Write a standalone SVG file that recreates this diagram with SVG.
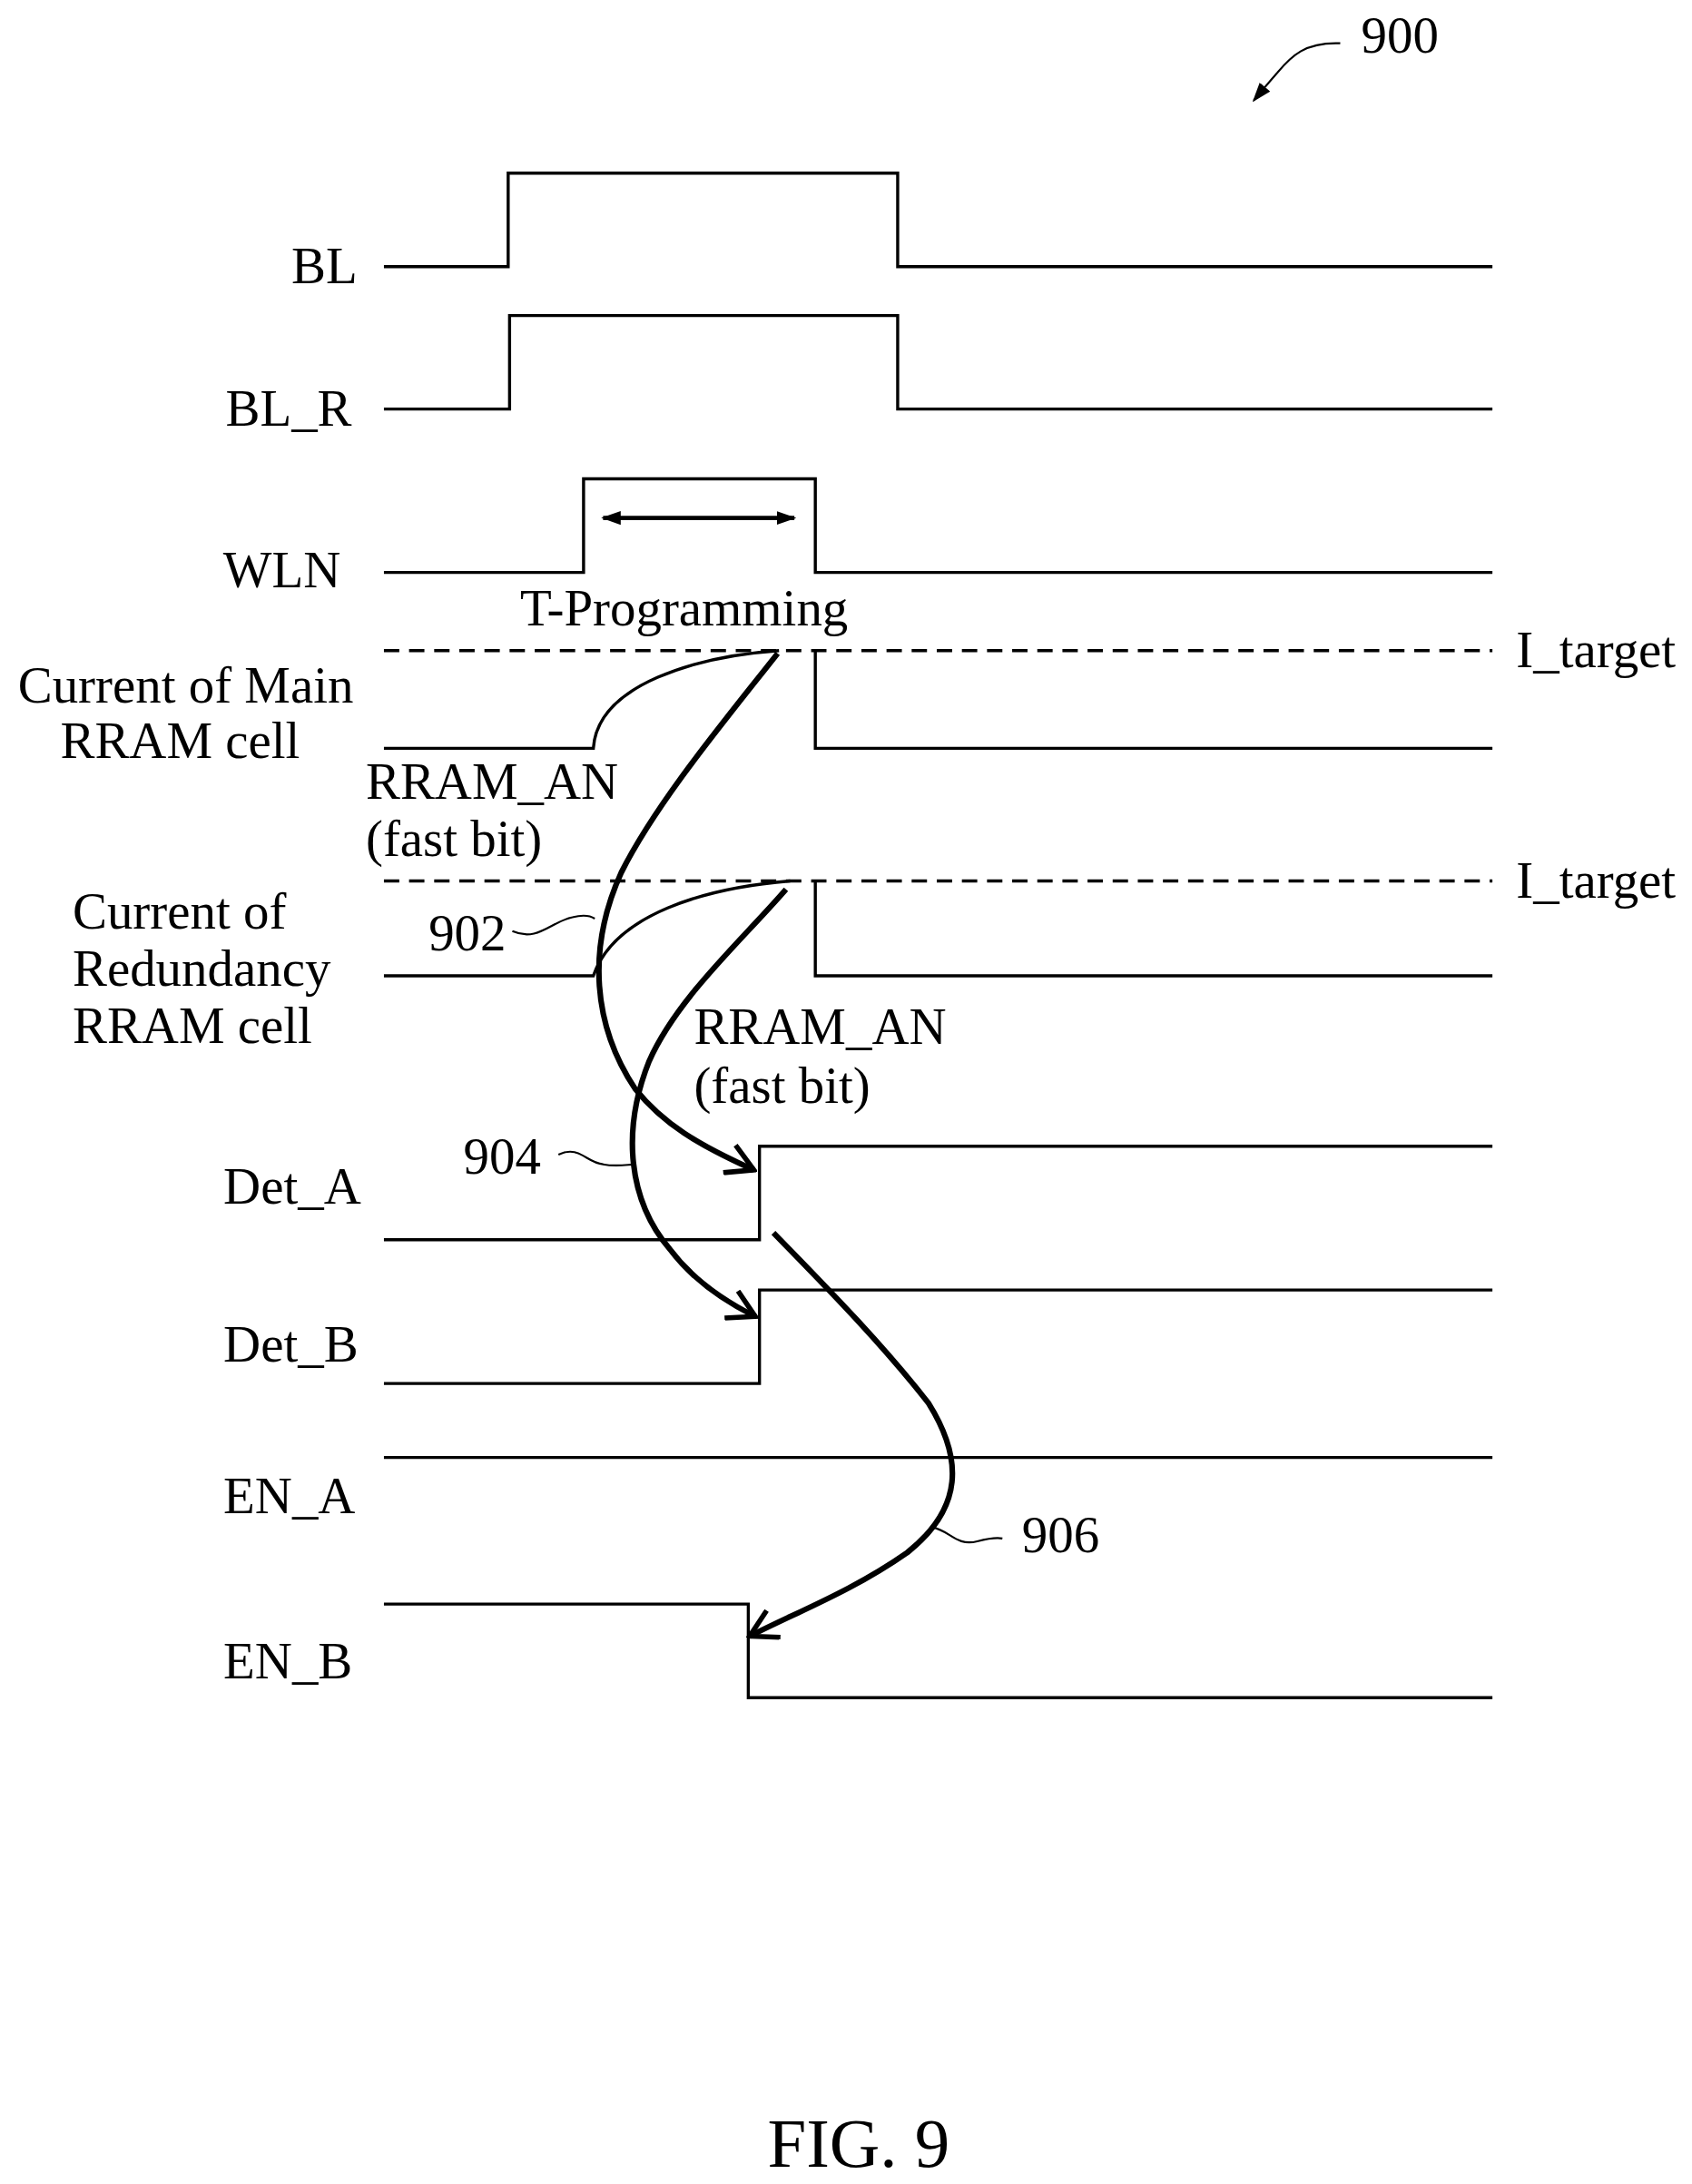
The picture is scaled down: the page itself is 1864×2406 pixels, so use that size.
<svg xmlns="http://www.w3.org/2000/svg" width="1864" height="2406" viewBox="0 0 1864 2406">
<style>
.s{fill:none;stroke:#000;stroke-width:2.2}
.d{fill:none;stroke:#000;stroke-width:2.2;stroke-dasharray:11 7}
.t{fill:none;stroke:#000;stroke-width:1.4}
.k{fill:none;stroke:#000;stroke-width:4}
text{font-family:"Liberation Serif","Times New Roman",serif;font-size:37px;fill:#000}
.r{text-anchor:end}
.m{text-anchor:middle}
</style>
<defs>
<marker id="ak" viewBox="0 0 10 10" refX="9" refY="5" markerWidth="6" markerHeight="6" orient="auto"><path d="M1,0.5 L9,5 L1,9.5" fill="none" stroke="#000" stroke-width="1.5"/></marker>
<marker id="tri2" viewBox="0 0 10 10" refX="9" refY="5" markerWidth="14" markerHeight="14" orient="auto-start-reverse" markerUnits="userSpaceOnUse"><path d="M0,1.5 L10,5 L0,8.5 z" fill="#000"/></marker>
</defs>
<rect width="1864" height="2406" fill="#fff"/>
<g transform="scale(1.538)">
<g id="ref900"><text x="975" y="38">900</text><path class="t" d="M960,31 C935,30 925,40 915,52 C908,60 903,66 898,72" marker-end="url(#tri2)"/></g>
<g id="BL"><text class="r" x="256" y="203">BL</text><path class="s" d="M275,191 H364 V124 H643 V191 H1069"/></g>
<g id="BL_R"><text class="r" x="252" y="305">BL_R</text><path class="s" d="M275,293 H365 V226 H643 V293 H1069"/></g>
<g id="WLN"><text class="r" x="244" y="421">WLN</text><path class="s" d="M275,410 H418 V343 H584 V410 H1069"/>
<path d="M432,371 H569" stroke="#000" stroke-width="3" marker-start="url(#tri2)" marker-end="url(#tri2)"/>
<text class="m" x="490" y="448">T-Programming</text></g>
<g id="main"><text class="m" x="133" y="503">Current of Main</text><text class="m" x="129" y="543">RRAM cell</text>
<path class="d" d="M275,466 H1069"/><text x="1086" y="478">I_target</text>
<path class="s" d="M275,536 H425 C428,490 500,470 558,466 M584,466 V536 H1069"/>
<text x="262" y="572">RRAM_AN</text><text x="262" y="613">(fast bit)</text></g>
<g id="red"><text x="52" y="665">Current of</text><text x="52" y="706">Redundancy</text><text x="52" y="747">RRAM cell</text>
<path class="d" d="M275,631 H1069"/><text x="1086" y="643">I_target</text>
<path class="s" d="M275,699 H425 C440,655 505,636 566,631 M584,631 V699 H1069"/>
<text x="307" y="681">902</text><path class="t" d="M367,667 C385,675 395,660 410,657 C418,655 423,656 426,658"/>
<text x="497" y="748">RRAM_AN</text><text x="497" y="790">(fast bit)</text></g>
<g id="DetA"><text x="160" y="862">Det_A</text><path class="s" d="M275,888 H544 V821 H1069"/>
<text x="332" y="841">904</text><path class="t" d="M400,827 C415,820 420,833 432,834 C442,836 450,834 455,834"/></g>
<g id="DetB"><text x="160" y="975">Det_B</text><path class="s" d="M275,991 H544 V924 H1069"/></g>
<g id="ENA"><text x="160" y="1084">EN_A</text><path class="s" d="M275,1044 H1069"/></g>
<g id="ENB"><text x="160" y="1202">EN_B</text><path class="s" d="M275,1149 H536 V1216 H1069"/>
<text x="732" y="1112">906</text><path class="t" d="M668,1094 C680,1096 685,1108 700,1104 C708,1102 713,1101 718,1102"/></g>
<g id="connectors">
<path class="k" d="M557,468 C520,515 470,575 445,625 C420,680 425,735 455,780 C475,805 500,820 540,838" marker-end="url(#ak)"/>
<path class="k" d="M563,637 C530,675 485,715 465,760 C445,810 450,860 480,895 C495,915 515,930 541,943" marker-end="url(#ak)"/>
<path class="k" d="M554,883 C585,915 630,960 665,1005 C690,1045 690,1080 650,1112 C610,1140 570,1155 537,1172" marker-end="url(#ak)"/>
</g>
<text class="m" x="615" y="1552" style="font-size:50px">FIG. 9</text>
</g>
</svg>
